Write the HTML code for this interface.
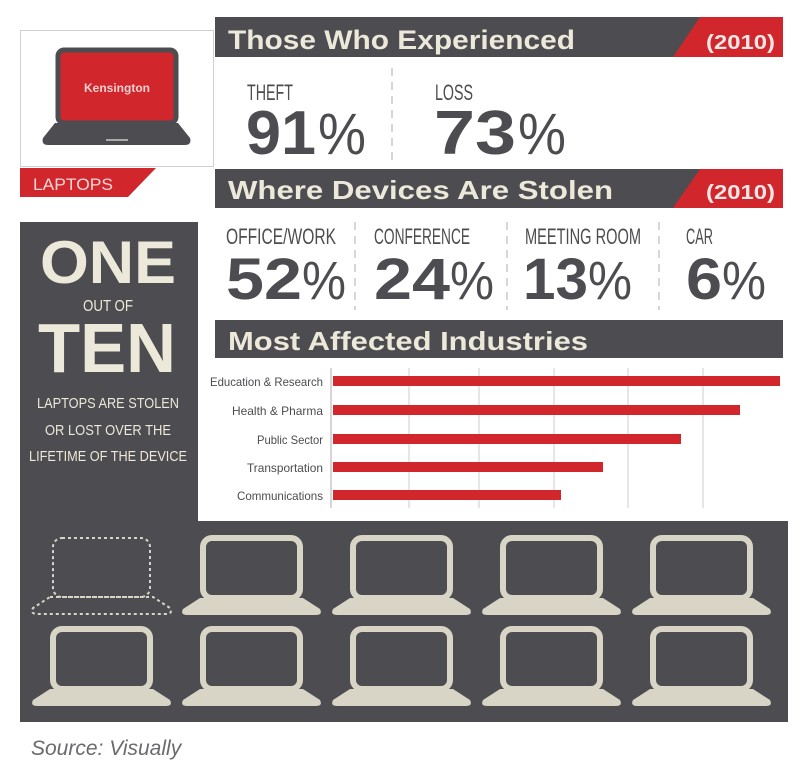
<!DOCTYPE html>
<html><head><meta charset="utf-8"><style>
html,body{margin:0;padding:0;background:#fff;width:800px;height:770px;overflow:hidden}
svg{display:block}
text{font-family:"Liberation Sans",sans-serif}
</style></head><body>
<svg width="800" height="770" viewBox="0 0 800 770" xmlns="http://www.w3.org/2000/svg">
<defs>
<g id="lap">
  <rect x="3" y="3" width="97" height="60" rx="9" fill="#4d4c50" stroke="#d9d5c6" stroke-width="6"/>
  <path d="M0,63 L103,63 L120,74 Q123,80 116,80 L-13,80 Q-20,80 -17,74 Z" fill="#d9d5c6"/>
</g>
</defs>
<!-- gray panel -->
<rect x="20" y="222" width="768" height="500" fill="#4d4c50"/>
<rect x="198" y="208" width="590" height="313" fill="#fff"/>

<!-- top-left box -->
<rect x="20.5" y="30.5" width="193" height="136" fill="#fff" stroke="#d0d0d0"/>
<rect x="58" y="50" width="118" height="73" rx="6" fill="#d0262c" stroke="#4d4c50" stroke-width="5"/>
<text x="117" y="92" font-size="12" fill="#f0d0d0" text-anchor="middle" font-weight="bold">Kensington</text>
<path d="M55,123 L178,123 L190,138 Q192,145 185,145 L48,145 Q41,145 43,138 Z" fill="#4d4c50"/>
<rect x="106" y="139" width="22" height="2" fill="#aaa"/>
<path d="M20,168 L156,168 L128,197 L20,197 Z" fill="#d0262c"/>
<text x="33" y="190" font-size="17" fill="#f3d6d6" textLength="80" lengthAdjust="spacingAndGlyphs">LAPTOPS</text>

<!-- header bars -->
<rect x="215" y="17" width="568" height="40" fill="#4d4c50"/>
<path d="M673,57 L700,17 L783,17 L783,57 Z" fill="#d0262c"/>
<text x="228" y="49" font-size="27" font-weight="bold" fill="#ece8da" textLength="347" lengthAdjust="spacingAndGlyphs">Those Who Experienced</text>
<text x="706" y="49" font-size="20" font-weight="bold" fill="#f6e6e6" textLength="69" lengthAdjust="spacingAndGlyphs">(2010)</text>

<rect x="215" y="169" width="568" height="39" fill="#4d4c50"/>
<path d="M673,208 L700,169 L783,169 L783,208 Z" fill="#d0262c"/>
<text x="228" y="199" font-size="26" font-weight="bold" fill="#ece8da" textLength="385" lengthAdjust="spacingAndGlyphs">Where Devices Are Stolen</text>
<text x="706" y="199" font-size="20" font-weight="bold" fill="#f6e6e6" textLength="69" lengthAdjust="spacingAndGlyphs">(2010)</text>

<rect x="215" y="320" width="568" height="38" fill="#4d4c50"/>
<text x="228" y="350" font-size="26" font-weight="bold" fill="#ece8da" textLength="360" lengthAdjust="spacingAndGlyphs">Most Affected Industries</text>

<!-- row 1 stats -->
<g fill="#4d4c50">
<text x="247" y="100" font-size="22" textLength="46" lengthAdjust="spacingAndGlyphs">THEFT</text>
<text x="246" y="154" font-size="62" font-weight="bold" textLength="70" lengthAdjust="spacingAndGlyphs">91</text>
<text x="318" y="154" font-size="58" font-weight="normal" textLength="48" lengthAdjust="spacingAndGlyphs">%</text>
<text x="435" y="100" font-size="22" textLength="38" lengthAdjust="spacingAndGlyphs">LOSS</text>
<text x="434" y="154" font-size="62" font-weight="bold" textLength="82" lengthAdjust="spacingAndGlyphs">73</text>
<text x="518" y="154" font-size="58" textLength="48" lengthAdjust="spacingAndGlyphs">%</text>

<text x="226" y="244" font-size="22" textLength="110" lengthAdjust="spacingAndGlyphs">OFFICE/WORK</text>
<text x="226" y="299" font-size="58" font-weight="bold" textLength="76" lengthAdjust="spacingAndGlyphs">52</text>
<text x="302" y="299" font-size="54" textLength="44" lengthAdjust="spacingAndGlyphs">%</text>
<text x="374" y="244" font-size="22" textLength="96" lengthAdjust="spacingAndGlyphs">CONFERENCE</text>
<text x="374" y="299" font-size="58" font-weight="bold" textLength="76" lengthAdjust="spacingAndGlyphs">24</text>
<text x="450" y="299" font-size="54" textLength="44" lengthAdjust="spacingAndGlyphs">%</text>
<text x="525" y="244" font-size="22" textLength="116" lengthAdjust="spacingAndGlyphs">MEETING ROOM</text>
<text x="523" y="299" font-size="58" font-weight="bold" textLength="65" lengthAdjust="spacingAndGlyphs">13</text>
<text x="588" y="299" font-size="54" textLength="44" lengthAdjust="spacingAndGlyphs">%</text>
<text x="686" y="244" font-size="22" textLength="27" lengthAdjust="spacingAndGlyphs">CAR</text>
<text x="686" y="299" font-size="58" font-weight="bold" textLength="36" lengthAdjust="spacingAndGlyphs">6</text>
<text x="722" y="299" font-size="54" textLength="44" lengthAdjust="spacingAndGlyphs">%</text>
</g>
<g stroke="#c8c8c8" stroke-width="1.5" stroke-dasharray="8,6">
<line x1="392" y1="68" x2="392" y2="160"/>
<line x1="355" y1="222" x2="355" y2="310"/>
<line x1="507" y1="222" x2="507" y2="310"/>
<line x1="659" y1="222" x2="659" y2="310"/>
</g>

<!-- bar chart -->
<g stroke="#d6d6d6" stroke-width="1.2">
<line x1="409" y1="368" x2="409" y2="508"/>
<line x1="479" y1="368" x2="479" y2="508"/>
<line x1="554" y1="368" x2="554" y2="508"/>
<line x1="628" y1="368" x2="628" y2="508"/>
<line x1="703" y1="368" x2="703" y2="508"/>
<line x1="331" y1="368" x2="331" y2="508" stroke="#bbb"/>
</g>
<g fill="#d0262c">
<rect x="333" y="376" width="447" height="10"/>
<rect x="333" y="405" width="407" height="10"/>
<rect x="333" y="434" width="348" height="10"/>
<rect x="333" y="462" width="270" height="10"/>
<rect x="333" y="490" width="228" height="10"/>
</g>
<g fill="#4d4c50" font-size="12" text-anchor="end">
<text x="323" y="386" textLength="113" lengthAdjust="spacingAndGlyphs">Education &amp; Research</text>
<text x="323" y="415" textLength="91" lengthAdjust="spacingAndGlyphs">Health &amp; Pharma</text>
<text x="323" y="444" textLength="66" lengthAdjust="spacingAndGlyphs">Public Sector</text>
<text x="323" y="472" textLength="76" lengthAdjust="spacingAndGlyphs">Transportation</text>
<text x="323" y="500" textLength="86" lengthAdjust="spacingAndGlyphs">Communications</text>
</g>

<!-- ONE OUT OF TEN -->
<g fill="#ece8da" text-anchor="middle">
<text x="108" y="283" font-size="60" font-weight="bold" textLength="136" lengthAdjust="spacingAndGlyphs">ONE</text>
<text x="108" y="311" font-size="16" textLength="50" lengthAdjust="spacingAndGlyphs">OUT OF</text>
<text x="107" y="372" font-size="70" font-weight="bold" textLength="138" lengthAdjust="spacingAndGlyphs">TEN</text>
<text x="108" y="408" font-size="15" textLength="142" lengthAdjust="spacingAndGlyphs">LAPTOPS ARE STOLEN</text>
<text x="108" y="435" font-size="15" textLength="126" lengthAdjust="spacingAndGlyphs">OR LOST OVER THE</text>
<text x="108" y="461" font-size="15" textLength="158" lengthAdjust="spacingAndGlyphs">LIFETIME OF THE DEVICE</text>
</g>

<!-- laptops -->
<g fill="none" stroke="#d9d5c6" stroke-width="2" stroke-dasharray="3,3">
<rect x="53" y="538" width="97" height="59" rx="9"/>
<path d="M50,597 L153,597 L170,608 Q173,614 166,614 L37,614 Q30,614 33,608 Z"/>
</g>
<use href="#lap" x="200" y="535"/>
<use href="#lap" x="350" y="535"/>
<use href="#lap" x="500" y="535"/>
<use href="#lap" x="650" y="535"/>
<use href="#lap" x="50" y="626"/>
<use href="#lap" x="200" y="626"/>
<use href="#lap" x="350" y="626"/>
<use href="#lap" x="500" y="626"/>
<use href="#lap" x="650" y="626"/>

<text x="31" y="755" font-size="21" font-style="italic" fill="#6a6a6e">Source: Visually</text>
</svg>
</body></html>
